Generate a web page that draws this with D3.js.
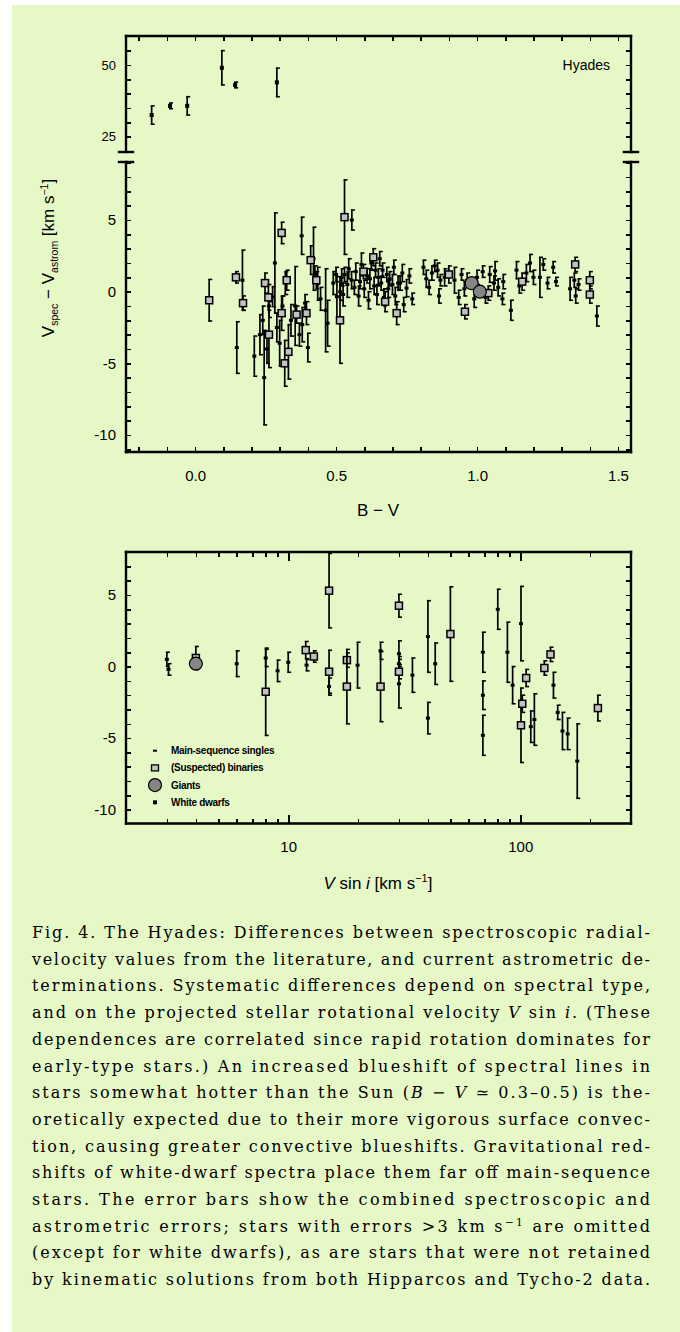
<!DOCTYPE html>
<html>
<head>
<meta charset="utf-8">
<script src="https://cdn.jsdelivr.net/npm/d3@7"></script>
<style>
body { margin: 0; background: #fff; }
</style>
</head>
<body>
<svg id="fig" width="680" height="1332" font-family="Liberation Sans, DejaVu Sans, sans-serif"></svg>
<script>
// ---- data: [B-V, Vspec - Vastrom, error] ----
var bvDwarfs = [
  [-0.154, 32.5, 3.2], [-0.089, 35.7, 1.0], [-0.028, 35.7, 3.2],
  [0.095, 49.0, 6.0], [0.142, 43.0, 1.0], [0.29, 43.9, 5.0]
];
var bvBinaries = [
  [0.05, -0.6, 1.45], [0.145, 1.0, 0.4], [0.17, -0.8, 0.5], [0.248, 0.6, 0.7],
  [0.26, -0.4, 0.9], [0.262, -3.0, 2.3], [0.307, 4.1, 0.75], [0.307, -1.5, 1.2],
  [0.318, -5.0, 1.6], [0.325, 0.8, 0.7], [0.331, -4.2, 1.9], [0.36, -1.6, 0.6],
  [0.395, -1.5, 0.8], [0.41, 2.2, 1.0], [0.43, 0.8, 0.6], [0.514, -2.0, 3.0],
  [0.53, 5.2, 2.6], [0.597, 1.4, 0.5], [0.632, 2.4, 0.6], [0.674, -0.7, 0.7],
  [0.715, -1.5, 0.8], [0.9, 1.2, 0.6], [0.957, -1.4, 0.5], [1.04, -0.1, 0.5],
  [1.16, 0.7, 0.6], [1.348, 1.9, 0.5], [1.40, 0.8, 0.6], [1.40, -0.2, 0.6]
];
var bvGiants = [[0.981, 0.59, 0.3], [1.01, 0.0, 0.3]];
var bvSingles = [
  [0.168, 0.8, 2.1], [0.148, -3.9, 1.8], [0.21, -4.5, 1.4], [0.23, -3.0, 1.4],
  [0.245, -6.0, 3.3], [0.24, -2.0, 1.0], [0.255, -4.0, 1.0], [0.262, -1.0, 0.8],
  [0.275, -0.35, 0.7], [0.283, 2.0, 3.5], [0.29, -2.5, 1.0], [0.30, -3.6, 1.6],
  [0.31, -1.0, 0.7], [0.32, 0.6, 0.8], [0.34, -2.0, 1.1], [0.355, -1.0, 2.75],
  [0.37, -3.0, 0.8], [0.378, 3.9, 1.3], [0.38, -2.3, 1.2], [0.39, -0.8, 0.6],
  [0.40, -3.9, 1.0], [0.42, 2.3, 2.2], [0.425, 1.3, 0.5], [0.435, 0.55, 1.15],
  [0.445, -0.5, 0.8], [0.47, -2.2, 1.6], [0.463, -1.3, 2.9], [0.503, -0.35, 1.4],
  [0.556, 5.0, 0.7], [0.54, 0.5, 0.9], [0.52, 1.0, 0.6], [0.515, 0.0, 0.6],
  [0.53, 1.2, 0.5], [0.49, 0.6, 0.8], [0.50, 1.2, 0.5], [0.525, -0.2, 0.8],
  [0.545, 1.6, 0.7], [0.555, 0.8, 0.6], [0.565, 0.3, 0.5], [0.57, 1.4, 0.6],
  [0.58, -0.3, 0.7], [0.585, 0.7, 0.5], [0.59, 1.9, 0.8], [0.60, 0.2, 0.6],
  [0.61, 1.1, 0.5], [0.615, -0.6, 0.6], [0.62, 0.9, 0.7], [0.625, 2.0, 0.5],
  [0.635, 0.4, 0.6], [0.64, 1.5, 0.5], [0.645, -0.2, 0.7], [0.65, 1.0, 0.6],
  [0.655, 2.3, 0.5], [0.66, 0.6, 0.5], [0.665, 1.5, 0.5], [0.67, -0.4, 0.6],
  [0.68, 1.2, 0.5], [0.685, 0.2, 0.6], [0.69, 0.9, 0.5], [0.70, 0.5, 0.7],
  [0.705, 1.7, 0.5], [0.71, -0.3, 0.6], [0.72, 0.6, 0.5], [0.727, 0.6, 0.5],
  [0.735, 1.3, 0.6], [0.74, -0.9, 0.5], [0.75, 0.25, 0.6], [0.76, 1.1, 0.5],
  [0.77, -0.5, 0.4], [0.81, 1.7, 0.5], [0.82, 0.9, 0.6], [0.83, 0.3, 0.5],
  [0.84, 1.3, 0.5], [0.85, 1.8, 0.4], [0.86, 1.5, 0.5], [0.865, -0.3, 0.5],
  [0.87, 0.8, 0.4], [0.885, 1.0, 0.6], [0.92, 0.8, 0.9], [0.935, -0.4, 0.5],
  [0.945, 1.2, 0.4], [0.955, 0.2, 0.5], [0.965, 0.8, 0.5], [0.99, -0.5, 0.6],
  [1.0, 1.0, 0.5], [1.02, 1.4, 0.4], [1.03, -0.4, 0.4], [1.045, 1.2, 0.55],
  [1.06, 0.6, 0.5], [1.064, 1.45, 0.65], [1.075, 0.3, 0.6], [1.093, 0.7, 0.5],
  [1.09, -0.5, 0.4], [1.12, -1.3, 0.7], [1.14, 1.5, 0.6], [1.15, 0.4, 0.5],
  [1.175, 1.3, 0.6], [1.188, 2.0, 0.6], [1.20, 1.0, 0.5], [1.223, 1.0, 1.4],
  [1.235, 1.9, 0.4], [1.25, 0.6, 0.4], [1.27, 1.7, 0.4], [1.28, 0.7, 0.3],
  [1.33, 0.2, 0.8], [1.345, 0.8, 0.5], [1.35, -0.3, 0.5], [1.36, 0.5, 0.4],
  [1.425, -1.7, 0.7]
];

// ---- data: [V sin i, Vspec - Vastrom, error] ----
var vsSingles = [
  [3.0, 0.5, 0.5], [3.05, -0.2, 0.4], [6, 0.2, 0.9], [8, 0.6, 0.6], [9, -0.3, 0.75],
  [10, 0.3, 0.7], [12, 0.1, 0.4], [15, -1.4, 0.6], [19.9, 0.1, 1.6], [25, 1.1, 0.6],
  [30, 0.9, 0.9], [30, 0.2, 0.5], [30, -1.2, 1.7], [34.3, -0.6, 1.2], [40, 2.1, 2.5],
  [40, -3.6, 1.1], [43, 0.2, 1.45], [69, 1.0, 1.4], [69, -2.0, 1.0], [69, -4.8, 1.4],
  [80, 4.0, 1.4], [88, 1.0, 2.1], [92.7, -1.3, 1.3], [100.7, 3.0, 2.6], [115, -3.7, 1.8],
  [111, -4.2, 1.1], [139, -1.3, 0.9], [145, -3.2, 0.5], [152, -4.5, 1.3], [160, -4.7, 1.1],
  [176, -6.6, 2.6]
];
var vsBinaries = [
  [4, 0.6, 0.8], [8, -1.76, 3.05], [11.9, 1.15, 0.6], [12.9, 0.7, 0.4], [15, 5.3, 2.6],
  [15, -0.36, 1.5], [17.9, 0.45, 0.5], [17.9, -1.4, 2.6], [25, -1.4, 2.45], [30, 4.25, 0.8],
  [30, -0.36, 0.5], [50, 2.27, 3.3], [100.7, -4.1, 2.6], [102, -2.6, 0.6], [106, -0.8, 0.6],
  [127, -0.1, 0.5], [135, 0.85, 0.5], [216, -2.9, 0.9]
];
var vsGiants = [[4, 0.2, 0.4]];

var legendLabels = ["Main-sequence singles", "(Suspected) binaries", "Giants", "White dwarfs"];

var captionLines = [
  "Fig. 4. The Hyades: Differences between spectroscopic radial-",
  "velocity values from the literature, and current astrometric de-",
  "terminations. Systematic differences depend on spectral type,",
  "and on the projected stellar rotational velocity *V* sin *i*. (These",
  "dependences are correlated since rapid rotation dominates for",
  "early-type stars.) An increased blueshift of spectral lines in",
  "stars somewhat hotter than the Sun (*B* − *V* ≃ 0.3–0.5) is the-",
  "oretically expected due to their more vigorous surface convec-",
  "tion, causing greater convective blueshifts. Gravitational red-",
  "shifts of white-dwarf spectra place them far off main-sequence",
  "stars. The error bars show the combined spectroscopic and",
  "astrometric errors; stars with errors >3 km s^−1^ are omitted",
  "(except for white dwarfs), as are stars that were not retained",
  "by kinematic solutions from both Hipparcos and Tycho-2 data."
];

var svg = d3.select("#fig");
svg.append("rect").attr("x", 12).attr("y", 5).attr("width", 668).attr("height", 1327)
  .attr("fill", "#e6f8c6");

// ---- scales ----
var bvX = d3.scaleLinear().domain([-0.245, 1.546]).range([126, 631]);
var dvLow = d3.scaleLinear().domain([-11.19, 9.05]).range([452, 162]);
var dvHigh = d3.scaleLinear().domain([19.6, 60.1]).range([152, 36]);
var vsX = d3.scaleLog().domain([2, 300]).range([126, 631]);
var vsY = d3.scaleLinear().domain([-10.96, 8.0]).range([823.5, 552]);
function dvY(v) { return v > 15 ? dvHigh(v) : dvLow(v); }

var lbl = function(list) { return function(d) { return list.indexOf(d) >= 0 ? (d < 0 ? "-" + Math.abs(d) : d) : ""; }; };

function styleAxis(g, size) {
  g.select(".domain").remove();
  g.selectAll("line").attr("stroke", "#000").attr("stroke-width", 1.6).attr("shape-rendering", "crispEdges");
  g.selectAll("text").attr("font-size", size || 15).attr("font-family", null).attr("fill", "#000");
}

function frameLine(x1, y1, x2, y2) {
  svg.append("line").attr("x1", x1).attr("y1", y1).attr("x2", x2).attr("y2", y2)
    .attr("stroke", "#000").attr("stroke-width", 2.4).attr("stroke-linecap", "square");
}

// ---- error bars and markers ----
function drawSet(data, xs, ys, kind) {
  var g = svg.append("g");
  var p = g.selectAll("g").data(data).enter().append("g");
  p.append("line").attr("x1", d => xs(d[0])).attr("x2", d => xs(d[0]))
    .attr("y1", d => ys(d[1] + d[2])).attr("y2", d => ys(d[1] - d[2]))
    .attr("stroke", "#000").attr("stroke-width", 1.7);
  [1, -1].forEach(function(s) {
    p.append("line").attr("x1", d => xs(d[0]) - 1).attr("x2", d => xs(d[0]) + 3)
      .attr("y1", d => ys(d[1] + s * d[2])).attr("y2", d => ys(d[1] + s * d[2]))
      .attr("stroke", "#000").attr("stroke-width", 1.6);
  });
  if (kind === "s") {
    p.append("rect").attr("x", d => xs(d[0]) - 2).attr("y", d => ys(d[1]) - 1.5)
      .attr("width", 4).attr("height", 3).attr("fill", "#000");
  } else if (kind === "b") {
    p.append("rect").attr("x", d => xs(d[0]) - 3.5).attr("y", d => ys(d[1]) - 3.5)
      .attr("width", 7).attr("height", 7).attr("fill", "#c2c2c2").attr("stroke", "#000").attr("stroke-width", 1.5);
  } else if (kind === "g") {
    p.append("circle").attr("cx", d => xs(d[0])).attr("cy", d => ys(d[1])).attr("r", 6.5)
      .attr("fill", "#858585").attr("stroke", "#000").attr("stroke-width", 1.2);
  } else {
    p.append("rect").attr("x", d => xs(d[0]) - 2).attr("y", d => ys(d[1]) - 2)
      .attr("width", 4).attr("height", 4).attr("fill", "#000");
  }
}

// ================= upper panel: B - V =================
var x0 = 126, x1 = 631, yTop = 36, yBot = 452, yBrk1 = 152, yBrk2 = 162;
var bvTicks = d3.range(-2, 16).map(d => d / 10);

svg.append("g").attr("transform", "translate(0," + yBot + ")")
  .call(d3.axisBottom(bvX).tickValues(bvTicks).tickSize(-5).tickPadding(18)
    .tickFormat(d => [0, 0.5, 1, 1.5].some(v => Math.abs(v - d) < 1e-9) ? d3.format(".1f")(d) : ""))
  .call(styleAxis);
svg.append("g").attr("transform", "translate(0," + yTop + ")")
  .call(d3.axisTop(bvX).tickValues(bvTicks).tickSize(-5).tickFormat(""))
  .call(styleAxis);

var lowTicks = d3.range(-11, 10);
var highTicks = [25, 30, 35, 40, 45, 50, 55];
svg.append("g").attr("transform", "translate(" + x0 + ",0)")
  .call(d3.axisLeft(dvLow).tickValues(lowTicks).tickSize(-5).tickPadding(10).tickFormat(lbl([-10, -5, 0, 5])))
  .call(styleAxis);
svg.append("g").attr("transform", "translate(" + x0 + ",0)")
  .call(d3.axisLeft(dvHigh).tickValues(highTicks).tickSize(-5).tickPadding(10).tickFormat(lbl([25, 50])))
  .call(styleAxis, 13);
svg.append("g").attr("transform", "translate(" + x1 + ",0)")
  .call(d3.axisRight(dvLow).tickValues(lowTicks).tickSize(-5).tickFormat(""))
  .call(styleAxis);
svg.append("g").attr("transform", "translate(" + x1 + ",0)")
  .call(d3.axisRight(dvHigh).tickValues(highTicks).tickSize(-5).tickFormat(""))
  .call(styleAxis);

frameLine(x0, yTop, x1, yTop);
frameLine(x0, yBot, x1, yBot);
[x0, x1].forEach(function(x) {
  frameLine(x, yTop, x, yBrk1);
  frameLine(x, yBrk2, x, yBot);
  frameLine(x - 7, yBrk1, x + 7, yBrk1);
  frameLine(x - 7, yBrk2, x + 7, yBrk2);
});

drawSet(bvSingles, bvX, dvY, "s");
drawSet(bvBinaries, bvX, dvY, "b");
drawSet(bvGiants, bvX, dvY, "g");
drawSet(bvDwarfs, bvX, dvY, "w");

svg.append("text").attr("x", 610).attr("y", 70).attr("text-anchor", "end")
  .attr("font-size", 14).text("Hyades");

svg.append("text").attr("x", 378).attr("y", 516).attr("text-anchor", "middle")
  .attr("font-size", 17).text("B − V");

var yl = svg.append("text").attr("transform", "translate(54,258) rotate(-90)")
  .attr("text-anchor", "middle").attr("font-size", 17);
yl.append("tspan").text("V");
yl.append("tspan").attr("dy", 4).attr("font-size", 10.5).text("spec");
yl.append("tspan").attr("dy", -4).text(" − V");
yl.append("tspan").attr("dy", 4).attr("font-size", 10.5).text("astrom");
yl.append("tspan").attr("dy", -4).text(" [km s");
yl.append("tspan").attr("dy", -6).attr("font-size", 10.5).text("−1");
yl.append("tspan").attr("dy", 6).text("]");

// ================= lower panel: V sin i =================
var vTop = 552, vBot = 823.5;
var minorV = [3, 4, 5, 6, 7, 8, 9, 20, 30, 40, 50, 60, 70, 80, 90, 200, 300];
var majorV = [10, 100];
var vYTicks = d3.range(-10, 9);

svg.append("g").attr("transform", "translate(0," + vBot + ")")
  .call(d3.axisBottom(vsX).tickValues(minorV).tickSize(-5).tickFormat(""))
  .call(styleAxis);
svg.append("g").attr("transform", "translate(0," + vBot + ")")
  .call(d3.axisBottom(vsX).tickValues(majorV).tickSize(-9).tickPadding(18).tickFormat(d3.format("d")))
  .call(styleAxis);
svg.append("g").attr("transform", "translate(0," + vTop + ")")
  .call(d3.axisTop(vsX).tickValues(minorV).tickSize(-5).tickFormat(""))
  .call(styleAxis);
svg.append("g").attr("transform", "translate(0," + vTop + ")")
  .call(d3.axisTop(vsX).tickValues(majorV).tickSize(-9).tickFormat(""))
  .call(styleAxis);
svg.append("g").attr("transform", "translate(" + x0 + ",0)")
  .call(d3.axisLeft(vsY).tickValues(vYTicks).tickSize(-5).tickPadding(10).tickFormat(lbl([-10, -5, 0, 5])))
  .call(styleAxis);
svg.append("g").attr("transform", "translate(" + x1 + ",0)")
  .call(d3.axisRight(vsY).tickValues(vYTicks).tickSize(-5).tickFormat(""))
  .call(styleAxis);

frameLine(x0, vTop, x1, vTop);
frameLine(x0, vBot, x1, vBot);
frameLine(x0, vTop, x0, vBot);
frameLine(x1, vTop, x1, vBot);

drawSet(vsSingles, vsX, vsY, "s");
drawSet(vsBinaries, vsX, vsY, "b");
drawSet(vsGiants, vsX, vsY, "g");

var xl = svg.append("text").attr("x", 378).attr("y", 889).attr("text-anchor", "middle").attr("font-size", 17);
xl.append("tspan").attr("font-style", "italic").text("V");
xl.append("tspan").text(" sin ");
xl.append("tspan").attr("font-style", "italic").text("i");
xl.append("tspan").text(" [km s");
xl.append("tspan").attr("dy", -7).attr("font-size", 11).text("−1");
xl.append("tspan").attr("dy", 7).text("]");

// legend
var legY = d3.scalePoint().domain(legendLabels).range([750.7, 802.3]);
var leg = svg.append("g");
legendLabels.forEach(function(name, i) {
  var y = legY(name);
  if (i === 0) leg.append("rect").attr("x", 153).attr("y", y - 1).attr("width", 4).attr("height", 2).attr("fill", "#000");
  if (i === 1) leg.append("rect").attr("x", 151.5).attr("y", y - 3).attr("width", 7).attr("height", 6)
    .attr("fill", "#c2c2c2").attr("stroke", "#000").attr("stroke-width", 1.3);
  if (i === 2) leg.append("circle").attr("cx", 155).attr("cy", y).attr("r", 6.5)
    .attr("fill", "#858585").attr("stroke", "#000").attr("stroke-width", 1.2);
  if (i === 3) leg.append("rect").attr("x", 153).attr("y", y - 2).attr("width", 4).attr("height", 4).attr("fill", "#000");
  leg.append("text").attr("x", 171).attr("y", y + 3.5).attr("font-size", 10).attr("font-weight", "bold")
    .attr("letter-spacing", -0.3).text(name);
});

// ---- caption ----
var cap = svg.append("g");
captionLines.forEach(function(line, i) {
  var t = cap.append("text").attr("x", 32).attr("y", 938 + i * 26.7)
    .attr("font-size", 16)
    .style("font-family", "'DejaVu Serif', serif")
    .attr("textLength", 618).attr("lengthAdjust", "spacing");
  var parts = line.split(/(\*[^*]+\*|\^[^^]+\^)/);
  var raised = false;
  parts.forEach(function(p) {
    if (!p) return;
    var ts;
    if (p[0] === "*") ts = t.append("tspan").attr("font-style", "italic").text(p.slice(1, -1));
    else if (p[0] === "^") ts = t.append("tspan").attr("font-size", 10.5).text(p.slice(1, -1));
    else ts = t.append("tspan").text(p);
    if (p[0] === "^") { ts.attr("dy", -6); raised = true; }
    else if (raised) { ts.attr("dy", 6); raised = false; }
  });
});
</script>
</body>
</html>
